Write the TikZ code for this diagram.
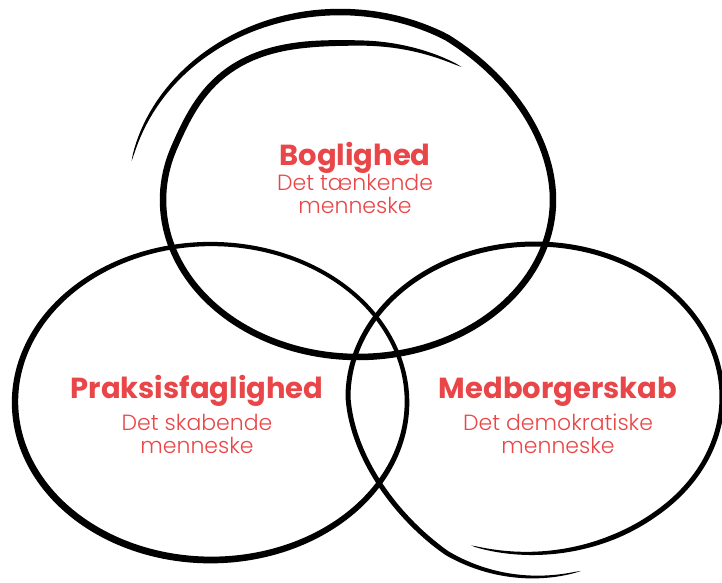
\documentclass[tikz,border=0pt]{standalone}
\usepackage{fontspec}
\setmainfont{Poppins}
\newfontfamily\thinfont{Poppins Light}
\usetikzlibrary{positioning}
\definecolor{venred}{RGB}{232,70,72}
% #1:#2 angle range, #3,#4 centre, #5,#6 radii, #7 pen width (all may use \x)
\def\penstroke#1#2#3#4#5#6#7{\fill plot[domain=#1:#2, samples=240] ({#3+(#5+(#7)/2)*cos(\x)}, {#4-(#6+(#7)/2)*sin(\x)}) -- plot[domain=#2:#1, samples=240] ({#3+(#5-(#7)/2)*cos(\x)}, {#4-(#6-(#7)/2)*sin(\x)}) -- cycle;}
\tikzset{
	head/.style={text=venred, inner sep=0pt, font=\bfseries\fontsize{29}{29}\selectfont},
	subhead/.style={text=venred, inner sep=0pt, align=center, font=\thinfont\fontsize{22}{23}\selectfont},
}

\begin{document}
\begin{tikzpicture}[x=1pt, y=-1pt,
	declare function={
		tops(\t)=min(1,max(0,(\t-360)/60));
		topm(\t)=less(abs(\t-125),36)*max(0,cos((\t-125)*2.5));
		topbump(\t)=1+0.06*topm(\t)*topm(\t);
		topcx(\t)=358-18*tops(\t);
		toprx(\t)=(195+18*tops(\t))*topbump(\t);
		topry(\t)=(157+31*tops(\t))*topbump(\t);
		topw(\t)=6.5*min(1,sqrt(max(0,(\t-58)/47)),sqrt(max(0,(528-\t)/70)));
		lw(\t)=5.5+1.5*cos(\t-235);
		rs(\t)=min(1,max(0,(\t-540)/60));
		rrx(\t)=187-10*rs(\t);
		rry(\t)=153+5*max(0,1-(\t-250)/60)+27*rs(\t);
		rw(\t)=5*min(1,sqrt(max(0,(\t-250)/45)),sqrt(max(0,(645-\t)/50)));
	}]
			%%%%% START %%%%%
			\useasboundingbox (0, 0) rectangle (722, 582);
			
			% top loop, runs on into the outer swing
			\penstroke{58}{528}{topcx(\x)}{200}{toprx(\x)}{topry(\x)}{topw(\x)}
			
			% left loop
			\penstroke{0}{360}{211}{402}{196}{158}{lw(\x)}
			
			% right loop with the two ends under it
			\penstroke{250}{645}{535}{397}{rrx(\x)}{rry(\x)}{rw(\x)}
			
			% labels
			\node[head, anchor=base] (bog) at (355, 165) {Boglighed};
			\node[subhead, below=1pt of bog] (bogsub) {Det tænkende\\menneske};
			
			\node[head, anchor=base] (prak) at (197, 398) {Praksisfaglighed};
			\node[subhead, below=8pt of prak] (praksub) {Det skabende\\menneske};
			
			\node[head, anchor=base] (med) at (558, 398) {Medborgerskab};
			\node[subhead, below=8pt of med] (medsub) {Det demokratiske\\menneske};
			%%%%% END %%%%%
\end{tikzpicture}
\end{document}
